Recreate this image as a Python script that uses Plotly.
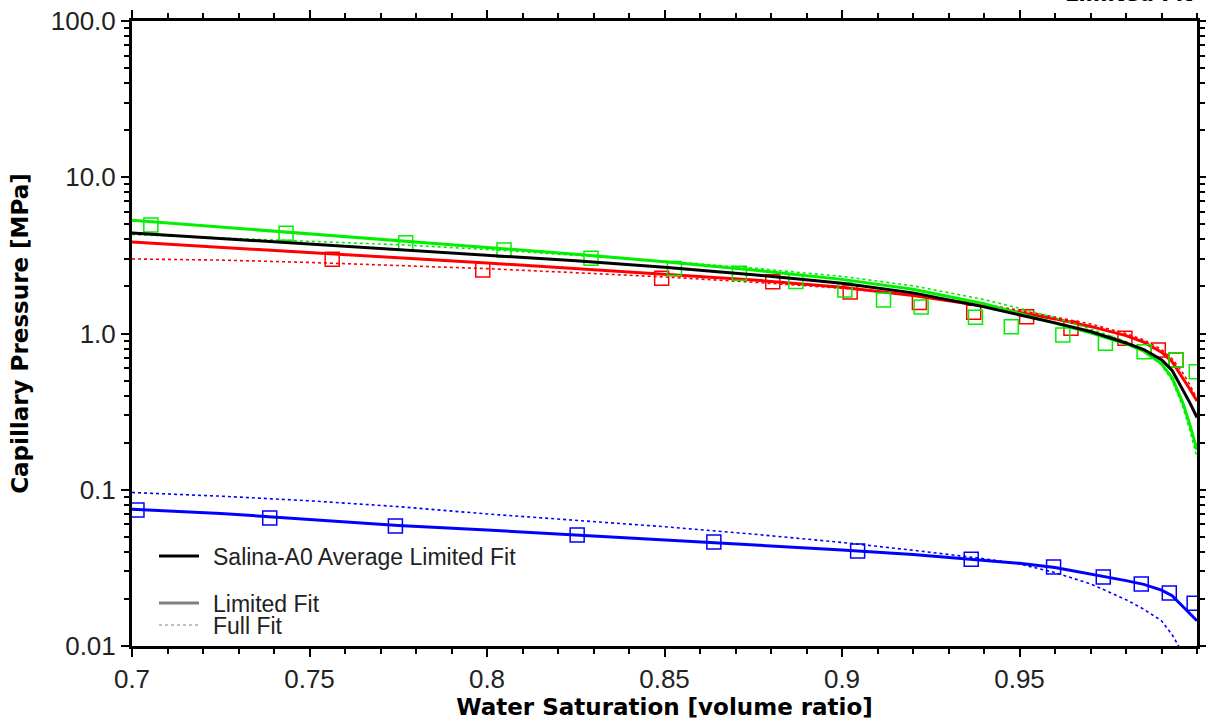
import plotly.graph_objects as go

# ---------------- data ----------------
sw_fit = [0.700, 0.725, 0.750, 0.775, 0.800, 0.825, 0.850, 0.875, 0.900, 0.920,
          0.940, 0.950, 0.960, 0.970, 0.980, 0.985, 0.990, 0.993, 0.996, 0.998, 1.000]

green_limited = [5.30, 4.80, 4.35, 3.95, 3.58, 3.22, 2.88, 2.55, 2.22, 1.92,
                 1.55, 1.34, 1.16, 1.01, 0.86, 0.77, 0.64, 0.52, 0.36, 0.26, 0.18]
green_full = [4.30, 4.10, 3.90, 3.70, 3.45, 3.18, 2.90, 2.62, 2.32, 2.02,
              1.65, 1.45, 1.26, 1.07, 0.89, 0.78, 0.63, 0.50, 0.34, 0.24, 0.16]
red_limited = [3.85, 3.55, 3.28, 3.05, 2.83, 2.60, 2.40, 2.20, 1.98, 1.75,
               1.50, 1.36, 1.24, 1.11, 0.97, 0.88, 0.76, 0.66, 0.52, 0.44, 0.37]
red_full = [3.00, 2.95, 2.85, 2.73, 2.60, 2.45, 2.30, 2.13, 1.95, 1.76,
            1.54, 1.41, 1.28, 1.15, 1.00, 0.91, 0.79, 0.69, 0.56, 0.47, 0.38]
average_limited = [4.40, 4.05, 3.75, 3.45, 3.18, 2.92, 2.65, 2.38, 2.10, 1.82,
                   1.48, 1.32, 1.17, 1.03, 0.87, 0.79, 0.68, 0.58, 0.44, 0.36, 0.29]
blue_limited = [0.0750, 0.0705, 0.0645, 0.0590, 0.0553, 0.0515, 0.0480, 0.0447, 0.0412, 0.0385,
                0.0355, 0.0338, 0.0318, 0.0290, 0.0262, 0.0248, 0.0228, 0.0210, 0.0180, 0.0160, 0.0145]
blue_full = [0.0960, 0.0910, 0.0850, 0.0780, 0.0700, 0.0640, 0.0580, 0.0520, 0.0460, 0.0410,
             0.0362, 0.0335, 0.0295, 0.0250, 0.0198, 0.0172, 0.0145, 0.0118, 0.0090, 0.0075, 0.0065]

sw_green = [0.7053, 0.7434, 0.7771, 0.8048, 0.8293, 0.8528, 0.8711, 0.8870, 0.9008,
            0.9117, 0.9223, 0.9376, 0.9477, 0.9622, 0.9742, 0.9851, 0.9941, 0.9998]
pc_green = [4.95, 4.38, 3.81, 3.42, 3.03, 2.61, 2.43, 2.15, 1.90,
            1.64, 1.48, 1.27, 1.105, 0.978, 0.866, 0.765, 0.677, 0.569]

sw_red = [0.7564, 0.7988, 0.8492, 0.8805, 0.9023, 0.9218, 0.9371, 0.9520,
          0.9645, 0.9797, 0.9891, 0.9941]
pc_red = [2.99, 2.55, 2.26, 2.14, 1.84, 1.58, 1.37, 1.28,
          1.08, 0.932, 0.784, 0.677]

sw_blue = [0.7014, 0.7388, 0.7742, 0.8254, 0.8639, 0.9044, 0.9364, 0.9596,
           0.9736, 0.9843, 0.9922, 0.9992]
pc_blue = [0.0742, 0.0659, 0.0586, 0.0513, 0.0463, 0.0406, 0.0359, 0.0320,
           0.0276, 0.0249, 0.0218, 0.0188]

x_tick_vals = [0.7, 0.75, 0.8, 0.85, 0.9, 0.95]
x_tick_text = ["0.7", "0.75", "0.8", "0.85", "0.9", "0.95"]
y_tick_vals = [0.01, 0.1, 1, 10, 100]
y_tick_text = ["0.01", "0.1", "1.0", "10.0", "100.0"]
y_minor_vals = [m * d for d in [0.01, 0.1, 1, 10] for m in range(2, 10)]

legend_labels = ["Salina-A0 Average Limited Fit", "Limited Fit", "Full Fit"]
title_text = "Limited Fit"

GREEN = "rgb(0,240,0)"
RED = "rgb(255,0,0)"
BLUE = "rgb(0,0,255)"
BLACK = "rgb(0,0,0)"
GRAY = "rgb(128,128,128)"

fig = go.Figure()


def add_line(x, y, color, dash, width):
    fig.add_trace(go.Scatter(x=x, y=y, mode="lines",
                             line=dict(color=color, width=width, dash=dash),
                             showlegend=False, hoverinfo="skip"))


def add_points(x, y, color):
    fig.add_trace(go.Scatter(x=x, y=y, mode="markers",
                             marker=dict(symbol="square-open", size=14, color=color,
                                         line=dict(width=1.5, color=color)),
                             showlegend=False))


# blue
add_line(sw_fit, blue_full, BLUE, "dot", 1.6)
add_line(sw_fit, blue_limited, BLUE, "solid", 3)
add_points(sw_blue, pc_blue, BLUE)
# red
add_line(sw_fit, red_full, RED, "dot", 1.6)
add_line(sw_fit, red_limited, RED, "solid", 3)
add_points(sw_red, pc_red, RED)
# green
add_line(sw_fit, green_full, GREEN, "dot", 1.6)
add_line(sw_fit, green_limited, GREEN, "solid", 3)
add_points(sw_green, pc_green, GREEN)
# average
add_line(sw_fit, average_limited, BLACK, "solid", 3)

L, R, T, B = 132, 9, 21, 75
W, H = 1206, 721
PW, PH = W - L - R, H - T - B


def px(xp):
    return (xp - L) / PW


def py(yp):
    return (H - B - yp) / PH


tick_font = dict(family="Liberation Sans, Arial, sans-serif", size=26, color="#222")
title_font = dict(family="DejaVu Sans, Verdana, sans-serif", size=23, color="#000")

fig.update_xaxes(
    range=[0.7, 1.0], tickmode="array", tickvals=x_tick_vals, ticktext=x_tick_text,
    ticks="outside", ticklen=8, tickwidth=2, tickcolor="black",
    showline=True, linewidth=3, linecolor="black", mirror="allticks",
    showgrid=False, zeroline=False, tickfont=tick_font, automargin=False,
    minor=dict(dtick=0.01, tick0=0.7, ticks="outside", ticklen=5, tickwidth=1.5,
               tickcolor="black", showgrid=False),
    title=dict(text="<b>Water Saturation [volume ratio]</b>", font=title_font, standoff=6),
)
fig.update_yaxes(
    type="log", range=[-2, 2], tickmode="array", tickvals=y_tick_vals, ticktext=y_tick_text,
    ticks="outside", ticklen=8, tickwidth=2, tickcolor="black",
    showline=True, linewidth=3, linecolor="black", mirror="allticks",
    showgrid=False, zeroline=False, tickfont=tick_font, automargin=False,
    minor=dict(tickmode="array", tickvals=y_minor_vals, ticks="outside", ticklen=5,
               tickwidth=1.5, tickcolor="black", showgrid=False),
    title=dict(text="<b>Capillary Pressure [MPa]</b>", font=title_font, standoff=16),
)

# legend drawn in paper coordinates
legend_rows = [(556, BLACK, "solid", 3), (603, GRAY, "solid", 3), (625, GRAY, "dot", 1.2)]
shapes = []
annotations = []
for (yy, col, dash, w), lab in zip(legend_rows, legend_labels):
    shapes.append(dict(type="line", xref="paper", yref="paper",
                       x0=px(159), x1=px(199), y0=py(yy), y1=py(yy),
                       line=dict(color=col, width=w, dash=dash)))
    annotations.append(dict(xref="paper", yref="paper", x=px(211), y=py(yy + 1),
                            xanchor="left", yanchor="middle", showarrow=False, text=lab,
                            font=dict(family="Liberation Sans, Arial, sans-serif",
                                      size=23, color="#222")))

annotations.append(dict(xref="paper", yref="paper", x=px(1195), y=py(8),
                        xanchor="right", yanchor="bottom", showarrow=False,
                        text="<b>" + title_text + "</b>",
                        font=dict(family="DejaVu Sans, Verdana, sans-serif", size=21,
                                  color="#000")))

fig.update_layout(
    width=W, height=H,
    margin=dict(l=L, r=R, t=T, b=B, pad=0, autoexpand=False),
    paper_bgcolor="white", plot_bgcolor="white",
    showlegend=False,
    shapes=shapes, annotations=annotations,
)

fig.write_html("out.html")
